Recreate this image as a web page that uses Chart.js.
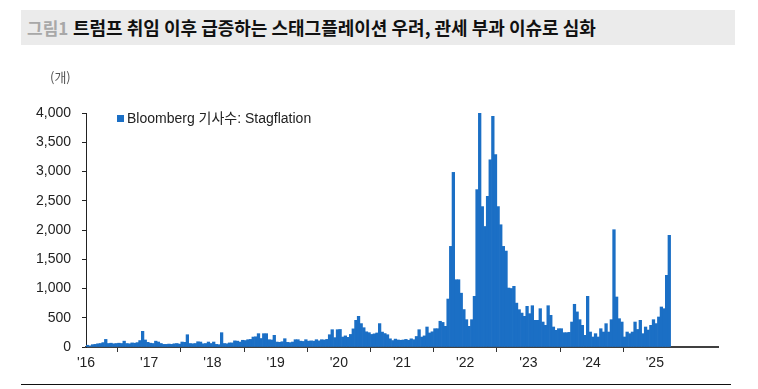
<!DOCTYPE html>
<html>
<head>
<meta charset="utf-8">
<script src="https://cdn.jsdelivr.net/npm/chart.js@4"></script>
<style>
  body { margin: 0; background: #fff; }
  #wrap { position: relative; width: 758px; height: 389px; overflow: hidden; font-family: "Liberation Sans", Arial, "Noto Sans CJK KR", sans-serif; }
  #chart { position: absolute; left: 0; top: 0; }
  .titlebar { position: absolute; left: 21px; top: 10px; width: 714px; height: 35px; background: #ebebeb; }
  .titlebar .fig { position: absolute; left: 6px; top: 5px; font-size: 17px; color: #a8a8a8; font-weight: bold; font-family: "Noto Sans CJK KR", sans-serif; }
  .titlebar .main { position: absolute; left: 52px; top: 4px; font-size: 18px; color: #111; font-weight: bold; font-family: "Noto Sans CJK KR", sans-serif; }
  .unit { position: absolute; left: 50px; top: 67px; font-size: 13px; color: #555; font-family: "Noto Sans CJK KR", sans-serif; }
  .legend { position: absolute; left: 117px; top: 107px; font-size: 14px; color: #222; font-family: "Liberation Sans", Arial, "Noto Sans CJK KR", sans-serif; }
  .legend i { display: inline-block; width: 7px; height: 7px; background: #1b6fc5; margin-right: 3px; vertical-align: 1px; }
  .rule { position: absolute; left: 21px; top: 384px; width: 710px; height: 1px; background: #111; }
</style>
</head>
<body>
<div id="wrap">
  <canvas id="chart" width="758" height="389"></canvas>
  <div class="titlebar"><span class="fig">그림1</span><span class="main">트럼프 취임 이후 급증하는 스태그플레이션 우려, 관세 부과 이슈로 심화</span></div>
  <div class="unit">(개)</div>
  <div class="legend"><i></i>Bloomberg 기사수: Stagflation</div>
  <div class="rule"></div>
</div>
<script>
// half-month buckets (peak count in each bucket)
const startYear = 2016;
const binsPerYear = 24;

const y2016 = [30, 20, 40, 45, 55, 60, 75, 130, 60, 65, 55, 60, 65, 60, 100, 60, 55, 70, 65, 75, 110, 268, 120, 80];
const y2017 = [65, 60, 100, 85, 60, 45, 45, 50, 45, 55, 60, 50, 85, 80, 210, 60, 55, 60, 90, 85, 55, 60, 85, 60];
const y2018 = [85, 45, 40, 245, 60, 55, 70, 70, 105, 100, 85, 115, 110, 125, 130, 170, 175, 228, 145, 228, 228, 125, 120, 200];
const y2019 = [85, 80, 90, 142, 80, 75, 85, 125, 125, 100, 95, 125, 100, 105, 100, 125, 105, 125, 120, 130, 210, 296, 160, 296];
const y2020 = [300, 170, 190, 165, 215, 310, 456, 524, 400, 330, 260, 245, 215, 225, 240, 400, 255, 230, 210, 140, 110, 135, 120, 115];
const y2021 = [120, 130, 115, 140, 125, 180, 296, 170, 190, 342, 240, 260, 313, 313, 440, 420, 353, 820, 1720, 2985, 1150, 1150, 920, 640];
const y2022 = [467, 353, 467, 866, 2690, 4000, 2400, 2060, 2575, 3200, 3943, 3290, 2400, 2090, 1720, 1640, 1008, 1000, 1037, 750, 638, 580, 524, 695];
const y2023 = [570, 706, 456, 456, 655, 427, 370, 706, 541, 342, 285, 313, 313, 245, 245, 250, 427, 730, 600, 467, 370, 200, 866, 256];
const y2024 = [171, 228, 171, 313, 256, 399, 256, 467, 2005, 855, 484, 427, 171, 256, 228, 256, 427, 300, 456, 228, 342, 290, 370, 467];
const y2025 = [400, 513, 684, 655, 1225, 1909];

const yearSeries = [y2016, y2017, y2018, y2019, y2020, y2021, y2022, y2023, y2024, y2025];
const counts = yearSeries.flat();
const points = counts.map((v, i) => ({ x: startYear + (i + 0.5) / binsPerYear, y: v }));

const axisFont = { family: '"Liberation Sans", Arial, sans-serif', size: 14 };

new Chart(document.getElementById("chart"), {
  type: "bar",
  data: {
    datasets: [{
      label: "Bloomberg 기사수: Stagflation",
      data: points,
      backgroundColor: "#1b6fc5",
      borderWidth: 0,
      barPercentage: 1,
      categoryPercentage: 1,
    }],
  },
  options: {
    responsive: false,
    animation: false,
    layout: { padding: { top: 113, right: 40, bottom: 12, left: 0 } },
    plugins: { legend: { display: false }, tooltip: { enabled: false } },
    scales: {
      x: {
        type: "linear",
        min: 2016,
        max: 2026,
        offset: false,
        afterFit: (scale) => { scale.height = 30; },
        border: { color: "#404040", width: 2 },
        grid: {
          drawOnChartArea: false,
          tickLength: 5,
          color: (ctx) => (ctx.tick && ctx.tick.value >= 2026 ? "rgba(0,0,0,0)" : "#333"),
        },
        ticks: {
          stepSize: 1,
          autoSkip: false,
          maxRotation: 0,
          padding: 3,
          color: "#222",
          font: axisFont,
          callback: (value) => (value < 2026 && Number.isInteger(value) ? "'" + String(value).slice(2) : ""),
        },
      },
      y: {
        min: 0,
        max: 4000,
        afterFit: (scale) => { scale.width = 86; },
        border: { color: "#222", width: 1 },
        grid: { drawOnChartArea: false, tickLength: 4, color: "#222" },
        ticks: {
          stepSize: 500,
          padding: 11,
          color: "#222",
          font: axisFont,
          callback: (value) => value.toLocaleString("en-US"),
        },
      },
    },
  },
});
</script>
</body>
</html>
